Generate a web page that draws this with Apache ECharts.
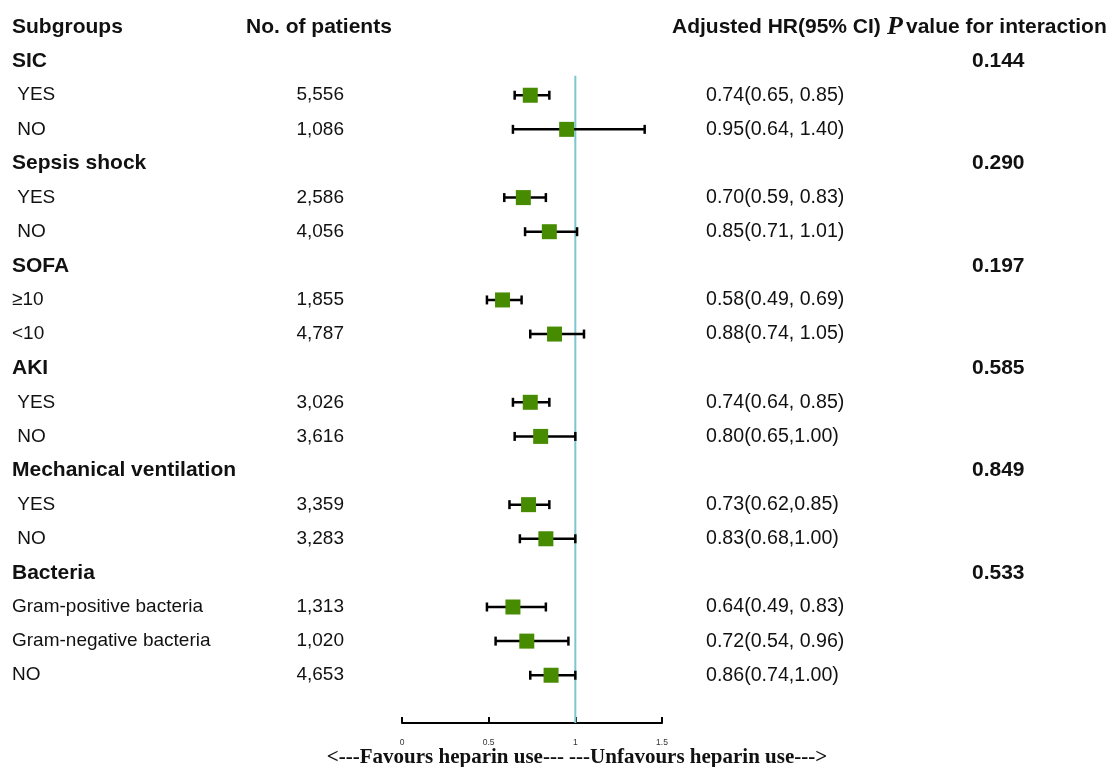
<!DOCTYPE html>
<html>
<head>
<meta charset="utf-8">
<script src="https://cdn.jsdelivr.net/npm/echarts@6/dist/echarts.min.js"></script>
<style>
html,body{margin:0;padding:0;background:#fff;}
#chart{width:1113px;height:767px;}
</style>
</head>
<body>
<div id="chart"></div>
<script>
// ---------- data ----------
const labels = ['SIC', ' YES', ' NO', 'Sepsis shock', ' YES', ' NO', 'SOFA', '\u226510', '<10',
  'AKI', ' YES', ' NO', 'Mechanical ventilation', ' YES', ' NO', 'Bacteria',
  'Gram-positive bacteria', 'Gram-negative bacteria', 'NO'];
const isGroup = [1,0,0,1,0,0,1,0,0,1,0,0,1,0,0,1,0,0,0];
const patients = ['', '5,556', '1,086', '', '2,586', '4,056', '', '1,855', '4,787',
  '', '3,026', '3,616', '', '3,359', '3,283', '', '1,313', '1,020', '4,653'];
const hr    = [null, 0.74, 0.95, null, 0.70, 0.85, null, 0.58, 0.88, null, 0.74, 0.80, null, 0.73, 0.83, null, 0.64, 0.72, 0.86];
const lower = [null, 0.65, 0.64, null, 0.59, 0.71, null, 0.49, 0.74, null, 0.64, 0.65, null, 0.62, 0.68, null, 0.49, 0.54, 0.74];
const upper = [null, 0.85, 1.40, null, 0.83, 1.01, null, 0.69, 1.05, null, 0.85, 1.00, null, 0.85, 1.00, null, 0.83, 0.96, 1.00];
const hrText = ['', '0.74(0.65, 0.85)', '0.95(0.64, 1.40)', '', '0.70(0.59, 0.83)', '0.85(0.71, 1.01)', '',
  '0.58(0.49, 0.69)', '0.88(0.74, 1.05)', '', '0.74(0.64, 0.85)', '0.80(0.65,1.00)', '',
  '0.73(0.62,0.85)', '0.83(0.68,1.00)', '', '0.64(0.49, 0.83)', '0.72(0.54, 0.96)', '0.86(0.74,1.00)'];
const pValues = ['0.144', '', '', '0.290', '', '', '0.197', '', '', '0.585', '', '', '0.849', '', '', '0.533', '', '', ''];
const xTicks = [0, 0.5, 1, 1.5];
const refValue = 1;
const headers = ['Subgroups', 'No. of patients', 'Adjusted HR(95% CI)', 'value for interaction'];
const bottomText = '<---Favours heparin use--- ---Unfavours heparin use--->';

// ---------- build ----------
const SANS = "'Liberation Sans', Arial, sans-serif";
const rowIdx = i => i + 1; // row 0 is the header
const pointData = [], ciData = [], textData = [];
for (let i = 0; i < labels.length; i++) {
  if (hr[i] != null) {
    pointData.push([hr[i], rowIdx(i)]);
    ciData.push([lower[i], upper[i], rowIdx(i)]);
  }
  textData.push([0, rowIdx(i), i]);
}
textData.push([0, 0, -1]);

const chart = echarts.init(document.getElementById('chart'));
chart.setOption({
  animation: false,
  backgroundColor: '#ffffff',
  grid: { left: 402, right: 451, top: 27, bottom: 44 },
  xAxis: {
    type: 'value', min: xTicks[0], max: xTicks[xTicks.length - 1], interval: 0.5,
    position: 'bottom',
    axisLine: { onZero: false, lineStyle: { color: '#000', width: 2 } },
    axisTick: { inside: true, length: 6, lineStyle: { color: '#000', width: 2 } },
    axisLabel: { fontSize: 8.5, color: '#333', margin: 15, fontFamily: SANS },
    splitLine: { show: false }
  },
  yAxis: {
    type: 'value', inverse: true, min: 0, max: 20.4,
    show: false, splitLine: { show: false }
  },
  graphic: [{
    type: 'text', x: 577, y: 747,
    style: { text: bottomText, align: 'center', font: "bold 21px 'Liberation Serif', 'Times New Roman', serif", fill: '#111' }
  }],
  series: [
    {
      type: 'line', data: [[refValue, 1.43], [refValue, 20.4]],
      symbol: 'none', lineStyle: { color: '#7cc6cf', width: 2 }, silent: true, z: 1
    },
    {
      type: 'custom', data: ciData, z: 2, silent: true,
      renderItem: function (params, api) {
        const a = api.coord([api.value(0), api.value(2)]);
        const b = api.coord([api.value(1), api.value(2)]);
        const h = 4.5;
        const st = { stroke: '#000', lineWidth: 2.5 };
        return {
          type: 'group', children: [
            { type: 'line', shape: { x1: a[0], y1: a[1], x2: b[0], y2: b[1] }, style: st },
            { type: 'line', shape: { x1: a[0], y1: a[1] - h, x2: a[0], y2: a[1] + h }, style: st },
            { type: 'line', shape: { x1: b[0], y1: b[1] - h, x2: b[0], y2: b[1] + h }, style: st }
          ]
        };
      }
    },
    {
      type: 'scatter', data: pointData, symbol: 'rect', symbolSize: 15, z: 3,
      itemStyle: { color: '#478c00', opacity: 1 }, silent: true
    },
    {
      type: 'custom', data: textData, z: 4, silent: true, clip: false,
      renderItem: function (params, api) {
        const y = api.coord([0, api.value(1)])[1];
        const i = api.value(2);
        const bold = "bold 21px " + SANS;
        const reg = "19px " + SANS;
        const hrFont = "19.6px " + SANS;
        const mk = (x, text, font, align) => ({
          type: 'text', x: x, y: y,
          style: { text: text, font: font, fill: '#111', align: align || 'left', verticalAlign: 'middle' }
        });
        if (i < 0) {
          return {
            type: 'group', children: [
              mk(12, headers[0], bold),
              mk(246, headers[1], bold),
              mk(672, headers[2], bold),
              { type: 'text', x: 887, y: y,
                style: { text: 'P', font: "italic bold 26px 'Liberation Serif', 'Times New Roman', serif", fill: '#111', verticalAlign: 'middle' } },
              mk(906, headers[3], bold)
            ]
          };
        }
        const ch = [];
        ch.push(mk(12, labels[i], isGroup[i] ? bold : reg));
        if (patients[i]) ch.push(mk(344, patients[i], reg, 'right'));
        if (hrText[i]) ch.push(mk(706, hrText[i], hrFont));
        if (pValues[i]) ch.push(mk(972, pValues[i], bold));
        return { type: 'group', children: ch };
      }
    }
  ]
});
</script>
</body>
</html>
